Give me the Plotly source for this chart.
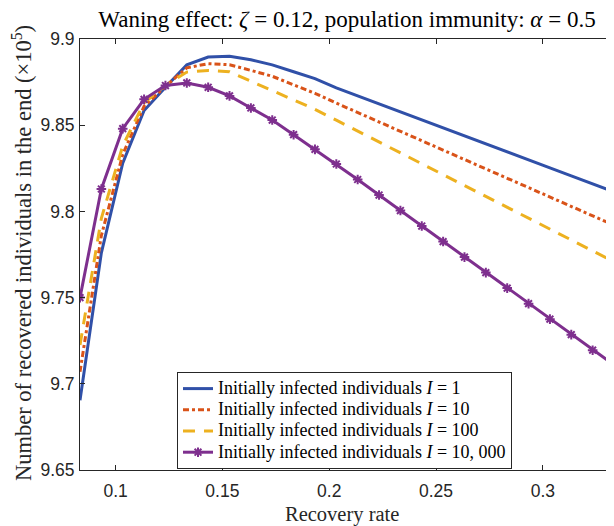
import numpy as np
import plotly.graph_objects as go

# Recovery rate grid (26 points from 1/12 to 1/3)
recovery_rate = np.linspace(1/12, 1/3, 26)

# Number of recovered individuals in the end (x 10^5)
r_I1 = [9.6905, 9.776, 9.828, 9.8585, 9.872, 9.885, 9.8895, 9.890, 9.888, 9.885,
        9.881, 9.877, 9.8717, 9.8671, 9.8624, 9.8578, 9.8531, 9.8485, 9.8438, 9.8392,
        9.8346, 9.8299, 9.8253, 9.8206, 9.8160, 9.8113]
r_I10 = [9.707, 9.786, 9.833, 9.861, 9.8725, 9.8833, 9.8857, 9.8851, 9.8818, 9.8784,
         9.8734, 9.8685, 9.8628, 9.8573, 9.8519, 9.8465, 9.8410, 9.8356, 9.8301, 9.8247,
         9.8192, 9.8138, 9.8084, 9.8029, 9.7975, 9.7920]
r_I100 = [9.7225, 9.796, 9.838, 9.863, 9.873, 9.8808, 9.8818, 9.8810, 9.8755, 9.8702,
          9.8645, 9.8592, 9.8529, 9.8466, 9.8403, 9.8339, 9.8276, 9.8213, 9.8150, 9.8087,
          9.8023, 9.7960, 9.7897, 9.7834, 9.7771, 9.7708]
r_I10000 = [9.750, 9.813, 9.848, 9.865, 9.873, 9.8745, 9.872, 9.867, 9.860, 9.853,
            9.8445, 9.836, 9.8275, 9.8185, 9.8095, 9.8005, 9.7915, 9.7825, 9.7735, 9.7645,
            9.7555, 9.7465, 9.7375, 9.7285, 9.7195, 9.711]

series_names = [
    "Initially infected individuals <i>I</i> = 1",
    "Initially infected individuals <i>I</i> = 10",
    "Initially infected individuals <i>I</i> = 100",
    "Initially infected individuals <i>I</i> = 10, 000",
]

x_tick_vals = [0.1, 0.15, 0.2, 0.25, 0.3]
x_tick_text = ["0.1", "0.15", "0.2", "0.25", "0.3"]
y_tick_vals = [9.65, 9.7, 9.75, 9.8, 9.85, 9.9]
y_tick_text = ["9.65", "9.7", "9.75", "9.8", "9.85", "9.9"]

BLUE = "#3050A8"
RED = "#D95319"
YELLOW = "#EDB120"
PURPLE = "#7E2F8E"
AX = "#262626"
SERIF = "Liberation Serif, Times New Roman, serif"
SANS = "Liberation Sans, Arial, sans-serif"

# page body adds an 8px offset; size figure so it fills the 614x526 window
W, H = 606, 518
L, R, T, B = 72, 0, 31, 56
PW, PH = W - L - R, H - T - B


def leg(name):
    return '<span style="font-size:18px">' + name + '</span>'


fig = go.Figure()
fig.add_trace(go.Scatter(x=recovery_rate, y=r_I1, mode="lines", name=leg(series_names[0]),
                         line=dict(color=BLUE, width=3)))
fig.add_trace(go.Scatter(x=recovery_rate, y=r_I10, mode="lines", name=leg(series_names[1]),
                         line=dict(color=RED, width=3, dash="6px,3px,3px,3px")))
fig.add_trace(go.Scatter(x=recovery_rate, y=r_I100, mode="lines", name=leg(series_names[2]),
                         line=dict(color=YELLOW, width=3, dash="12px,9px")))
fig.add_trace(go.Scatter(x=recovery_rate, y=r_I10000, mode="lines+markers", name=leg(series_names[3]),
                         line=dict(color=PURPLE, width=3),
                         marker=dict(symbol="asterisk-open", size=8, color=PURPLE,
                                     line=dict(color=PURPLE, width=2))))

fig.update_layout(
    width=W, height=H,
    margin=dict(l=L, r=R, t=T, b=B, autoexpand=False),
    paper_bgcolor="white", plot_bgcolor="white",
    title=dict(text="Waning effect: <i>ζ</i> = 0.12, population immunity: <i>α</i> = 0.5",
               font=dict(family=SERIF, size=23, color="#000000"),
               x=(L + PW / 2) / W, xref="container", xanchor="center",
               y=1 - 11 / H, yref="container", yanchor="middle"),
    showlegend=True,
    legend=dict(x=(169 - L) / PW, y=(470 - 372) / PH, xanchor="left", yanchor="top",
                bgcolor="white", bordercolor=AX, borderwidth=1,
                font=dict(family=SERIF, size=14, color="#000000"),
                tracegroupgap=0, itemwidth=30),
    annotations=[
        dict(text="Recovery rate", xref="paper", yref="paper",
             x=0.49, y=-44 / PH, xanchor="center", yanchor="middle",
             showarrow=False, font=dict(family=SERIF, size=20.5, color=AX)),
        dict(text="Number of recovered individuals in the end (×10<sup>5</sup>)",
             xref="paper", yref="paper", x=-(L - 14) / PW, y=(470 - 253) / PH,
             xanchor="center", yanchor="middle", textangle=-90,
             showarrow=False, font=dict(family=SERIF, size=22.5, color=AX)),
    ],
)
fig.update_xaxes(range=[1/12, 1/3], tickvals=x_tick_vals, ticktext=x_tick_text,
                 showline=True, linecolor=AX, linewidth=1, mirror="ticks",
                 ticks="inside", ticklen=5, tickcolor=AX, showgrid=False, zeroline=False,
                 automargin=False, ticklabelstandoff=5,
                 tickfont=dict(family=SANS, size=17.5, color=AX))
fig.update_yaxes(range=[9.65, 9.9], tickvals=y_tick_vals, ticktext=y_tick_text,
                 showline=True, linecolor=AX, linewidth=1, mirror="ticks",
                 ticks="inside", ticklen=5, tickcolor=AX, showgrid=False, zeroline=False,
                 automargin=False, ticklabelstandoff=1,
                 tickfont=dict(family=SANS, size=17.5, color=AX))

fig.write_html("out.html")
